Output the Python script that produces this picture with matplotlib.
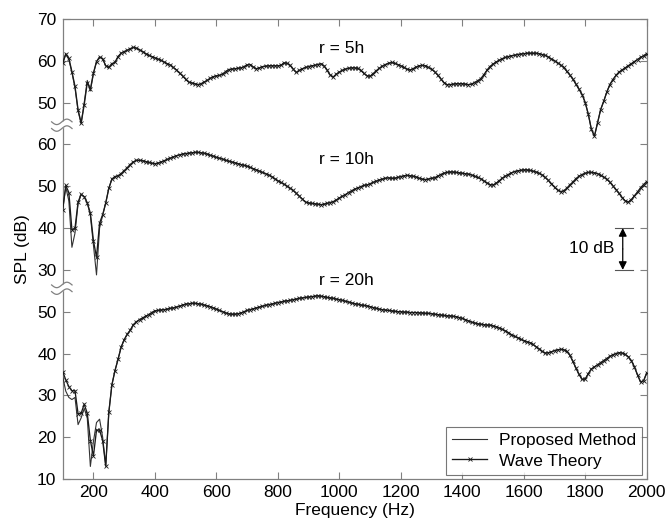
import numpy as np
import matplotlib
matplotlib.use("Agg")
import matplotlib.pyplot as plt
import matplotlib.transforms as mtransforms

plt.rcParams['font.family'] = ['Liberation Sans', 'DejaVu Sans']

# ---------------- data ----------------
freq_start, freq_step, freq_end = 100, 10, 2000

wave_5h = [
 59.4, 61.7, 60.6, 57.4, 53.9, 48.3, 45.1, 49.5, 54.8, 53.2,
 57.1, 59.8, 60.9, 60.5, 58.8, 58.4, 59.3, 59.6, 61.0, 61.8,
 62.2, 62.5, 62.9, 63.2, 63.0, 62.6, 62.2, 61.7, 61.3, 61.0,
 60.7, 60.4, 60.1, 59.7, 59.3, 59.0, 58.4, 57.8, 57.1, 56.4,
 55.6, 54.9, 54.7, 54.5, 54.3, 54.5, 54.9, 55.3, 55.8, 56.2,
 56.4, 56.5, 56.8, 57.4, 57.9, 58.0, 58.1, 58.2, 58.3, 58.6,
 59.0, 59.1, 58.5, 58.1, 58.3, 58.6, 58.7, 58.8, 58.8, 58.8,
 58.8, 58.9, 59.5, 59.4, 58.9, 58.0, 57.2, 57.7, 58.1, 58.4,
 58.6, 58.8, 58.9, 59.1, 59.3, 58.8, 57.8, 56.6, 56.1, 56.8,
 57.3, 57.7, 58.0, 58.2, 58.3, 58.3, 58.2, 57.7, 57.0, 56.4,
 56.3, 56.9, 57.6, 58.2, 58.7, 59.1, 59.4, 59.6, 59.4, 59.1,
 58.8, 58.4, 58.0, 57.8, 58.1, 58.5, 58.8, 58.9, 58.8, 58.4,
 58.0, 57.4, 56.6, 55.7, 54.8, 54.3, 54.3, 54.4, 54.5, 54.5,
 54.5, 54.4, 54.3, 54.4, 54.8, 55.2, 55.7, 56.6, 57.7, 58.6,
 59.2, 59.7, 60.1, 60.5, 60.8, 61.0, 61.2, 61.3, 61.5, 61.6,
 61.7, 61.8, 61.8, 61.8, 61.8, 61.7, 61.5, 61.3, 60.9, 60.4,
 60.0, 59.5, 59.0, 58.4, 57.5, 56.6, 55.6, 54.4, 53.2, 51.9,
 50.0, 47.2, 43.6, 42.0, 45.1, 48.3, 50.3, 52.5, 54.3, 55.5,
 56.5, 57.3, 57.8, 58.3, 58.8, 59.3, 59.8, 60.3, 60.8, 61.2,
 61.7]

wave_10h = [
 44.4, 50.2, 48.5, 39.6, 40.0, 46.2, 48.1, 47.5, 46.0, 43.6,
 37.0, 33.0, 41.2, 43.2, 46.0, 49.5, 51.7, 52.3, 52.5, 53.0,
 53.7, 54.4, 55.2, 55.8, 56.2, 56.2, 56.1, 55.9, 55.7, 55.5,
 55.4, 55.5, 55.8, 56.1, 56.4, 56.7, 57.0, 57.3, 57.5, 57.7,
 57.8, 57.9, 58.0, 58.1, 58.1, 58.0, 57.9, 57.7, 57.4, 57.2,
 56.9, 56.7, 56.5, 56.2, 56.0, 55.8, 55.6, 55.4, 55.2, 55.0,
 54.8, 54.5, 54.2, 53.9, 53.6, 53.3, 53.0, 52.7, 52.3, 51.8,
 51.3, 50.9, 50.5, 50.0, 49.5, 49.0, 48.3, 47.6, 46.9, 46.2,
 46.0, 45.9, 45.8, 45.7, 45.6, 45.7, 45.9, 46.1, 46.3, 46.7,
 47.2, 47.6, 48.0, 48.5, 48.9, 49.3, 49.6, 49.9, 50.2, 50.3,
 50.6, 50.9, 51.2, 51.5, 51.7, 51.9, 52.0, 51.9, 51.9, 52.1,
 52.3, 52.5, 52.6, 52.5, 52.4, 52.2, 51.9, 51.7, 51.6, 51.7,
 51.9, 52.0, 52.4, 52.8, 53.1, 53.3, 53.4, 53.4, 53.3, 53.2,
 53.1, 53.0, 52.9, 52.7, 52.4, 52.1, 51.8, 51.3, 50.8, 50.4,
 50.3, 50.7, 51.3, 51.9, 52.4, 52.8, 53.2, 53.5, 53.7, 53.8,
 53.9, 53.9, 53.8, 53.6, 53.4, 53.1, 52.7, 52.1, 51.4, 50.6,
 49.8, 49.1, 48.7, 48.9, 49.5, 50.3, 51.0, 51.8, 52.4, 52.8,
 53.1, 53.3, 53.3, 53.2, 53.0, 52.6, 52.2, 51.7, 51.0, 50.1,
 49.2, 48.3, 47.3, 46.5, 46.2, 46.8, 47.7, 48.6, 49.6, 50.4,
 51.1]

wave_20h = [
 35.7, 33.7, 32.1, 31.1, 31.1, 25.6, 25.7, 27.9, 25.7, 19.2,
 15.5, 21.7, 21.7, 19.2, 13.1, 25.9, 32.5, 35.9, 38.6, 41.5,
 43.3, 44.6, 45.6, 46.9, 47.6, 48.1, 48.5, 48.9, 49.3, 49.8,
 50.2, 50.3, 50.4, 50.5, 50.6, 50.8, 50.9, 51.1, 51.3, 51.6,
 51.8, 51.9, 52.0, 52.0, 51.9, 51.8, 51.6, 51.4, 51.2, 50.9,
 50.6, 50.3, 50.0, 49.7, 49.5, 49.4, 49.4, 49.5, 49.7, 50.0,
 50.3, 50.5, 50.7, 50.9, 51.1, 51.3, 51.5, 51.7, 51.8, 52.0,
 52.2, 52.3, 52.5, 52.6, 52.7, 52.9, 53.0, 53.2, 53.3, 53.4,
 53.5, 53.6, 53.7, 53.8, 53.7, 53.6, 53.4, 53.3, 53.2, 53.0,
 52.9, 52.7, 52.5, 52.3, 52.1, 51.9, 51.8, 51.6, 51.5, 51.4,
 51.2, 51.0, 50.8, 50.6, 50.5, 50.4, 50.3, 50.2, 50.1, 50.0,
 50.0, 49.9, 49.9, 49.8, 49.8, 49.8, 49.7, 49.7, 49.6, 49.6,
 49.5, 49.4, 49.3, 49.2, 49.1, 49.0, 49.0, 48.9, 48.8, 48.6,
 48.4, 48.1, 47.8, 47.5, 47.3, 47.1, 47.0, 46.9, 46.8, 46.8,
 46.6, 46.4, 46.1, 45.8, 45.4, 45.0, 44.5, 44.1, 43.8, 43.4,
 43.1, 42.8, 42.6, 42.2, 41.6, 41.1, 40.5, 40.1, 40.2, 40.4,
 40.7, 40.9, 41.0, 40.9, 40.5, 39.6, 38.1, 36.5, 35.0, 33.8,
 33.9, 35.2, 36.3, 36.8, 37.3, 37.8, 38.3, 38.8, 39.3, 39.7,
 40.0, 40.2, 40.1, 39.8, 39.2, 38.3, 36.8, 34.9, 33.2, 33.5,
 35.4]

# Proposed method: differs from wave theory only at low frequencies (100-260 Hz)
prop_low_5h = [59.4, 61.5, 60.3, 57.2, 53.5, 48.0, 45.0, 50.0, 55.3, 52.8,
               56.9, 59.8, 60.9, 60.5, 58.8, 58.4, 59.3]
prop_low_10h = [44.4, 49.8, 46.5, 35.4, 38.8, 45.8, 48.0, 47.5, 46.0, 43.0,
                36.0, 28.8, 40.0, 43.0, 46.0, 49.5, 51.7]
prop_low_20h = [34.5, 31.0, 29.5, 29.0, 29.5, 23.0, 24.6, 26.9, 24.5, 13.0,
                19.0, 23.5, 24.3, 20.0, 13.1, 25.9, 32.5]

curve_labels = ["r = 5h", "r = 10h", "r = 20h"]
curve_offsets = [40, 20, -10]   # vertical shift of each curve on the stacked axis

ytick_pos = [0, 10, 20, 30, 40, 50, 60, 70, 80, 90, 100, 110]
ytick_labels = ['10', '20', '30', '40', '50', '30', '40', '50', '60', '50', '60', '70']
xticks = [200, 400, 600, 800, 1000, 1200, 1400, 1600, 1800, 2000]

# ---------------- figure ----------------
FS = 12.5
freqs = np.arange(freq_start, freq_end + 1, freq_step)
fig = plt.figure(figsize=(6.67, 5.24), dpi=100)
ax = fig.add_axes([0.094, 0.0859, 0.8756, 0.8779])

line_col = '#1a1a1a'
waves = [wave_5h, wave_10h, wave_20h]
props_low = [prop_low_5h, prop_low_10h, prop_low_20h]
for i, (w, pl, off) in enumerate(zip(waves, props_low, curve_offsets)):
    w = np.asarray(w)
    prop = np.concatenate([np.asarray(pl), w[len(pl):]])
    ax.plot(freqs, prop + off, color='#333333', lw=0.8,
            label='Proposed Method' if i == 0 else None, zorder=3)
    ax.plot(freqs, w + off, color=line_col, lw=0.95, marker='x', ms=2.6, mew=0.6,
            label='Wave Theory' if i == 0 else None, zorder=4)

ax.set_xlim(100, 2000)
ax.set_ylim(0, 110)
ax.set_xticks(xticks)
ax.set_yticks(ytick_pos)
ax.set_yticklabels(ytick_labels)
ax.tick_params(direction='in', length=5, width=0.8, color='#808080',
               top=True, right=True, labelsize=FS, pad=4.5)
for s in ax.spines.values():
    s.set_color('#808080')
    s.set_linewidth(0.9)

ax.set_xlabel('Frequency (Hz)', fontsize=FS, labelpad=2)
ax.set_ylabel('SPL (dB)', fontsize=FS, labelpad=5)

# curve labels
ax.text(933, 103.0, curve_labels[0], fontsize=FS, ha='left', va='center')
ax.text(933, 76.3, curve_labels[1], fontsize=FS, ha='left', va='center')
ax.text(933, 47.4, curve_labels[2], fontsize=FS, ha='left', va='center')

# 10 dB scale bar
ax.plot([1896, 1955], [60, 60], color='#555555', lw=0.8)
ax.plot([1896, 1955], [50, 50], color='#555555', lw=0.8)
ax.annotate('', xy=(1922, 60), xytext=(1922, 55),
            arrowprops=dict(arrowstyle='-|>', color='black', lw=0.9,
                            mutation_scale=12, shrinkA=0, shrinkB=0))
ax.annotate('', xy=(1922, 50), xytext=(1922, 55),
            arrowprops=dict(arrowstyle='-|>', color='black', lw=0.9,
                            mutation_scale=12, shrinkA=0, shrinkB=0))
ax.text(1820, 55.2, '10 dB', fontsize=FS, ha='center', va='center')

# axis break marks on the left spine
trans = mtransforms.blended_transform_factory(ax.transAxes, ax.transData)
tx = np.linspace(-0.019, 0.016, 60)
wave_shape = 0.65 * np.sin((tx - tx[0]) / (tx[-1] - tx[0]) * 2 * np.pi + np.pi)
for yc in (84.6, 45.6):
    upper = yc + 0.8 + wave_shape
    lower = yc - 0.8 + wave_shape
    ax.fill_between(tx, lower, upper, color='white', transform=trans,
                    clip_on=False, zorder=6, lw=0)
    ax.plot(tx, upper, color='#808080', lw=0.9, transform=trans, clip_on=False, zorder=7)
    ax.plot(tx, lower, color='#808080', lw=0.9, transform=trans, clip_on=False, zorder=7)

leg = ax.legend(loc='lower right', fontsize=FS, frameon=True, fancybox=False,
                borderaxespad=0.25, handlelength=2.0, handletextpad=0.7,
                labelspacing=0.3, borderpad=0.35)
leg.get_frame().set_edgecolor('#555555')
leg.get_frame().set_linewidth(0.8)

fig.savefig('out.png', dpi=100)
